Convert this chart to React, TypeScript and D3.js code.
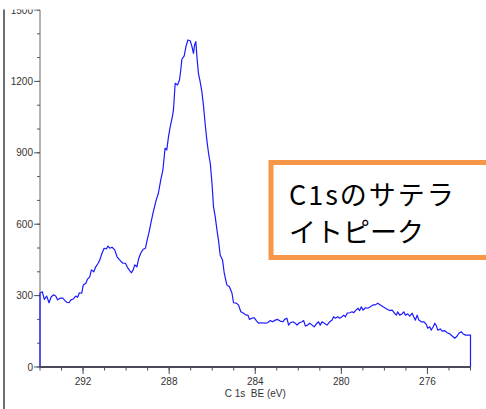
import React from "react";
import * as d3 from "d3";

// C 1s region: binding energy (eV) and counts
const bindingEnergy: number[] = [
  294.00, 293.89, 293.80, 293.69, 293.58, 293.49, 293.38, 293.27, 293.18, 293.07,
  292.94, 292.84, 292.76, 292.65, 292.56, 292.45, 292.34, 292.25, 292.17, 292.06,
  291.99, 291.87, 291.80, 291.69, 291.61, 291.50, 291.41, 291.30, 291.22, 291.12,
  291.02, 290.92, 290.84, 290.76, 290.65, 290.53, 290.42, 290.33, 290.22, 290.14,
  290.03, 289.94, 289.83, 289.75, 289.67, 289.60, 289.50, 289.41, 289.32, 289.21,
  289.10, 289.02, 288.93, 288.84, 288.74, 288.60, 288.50, 288.39, 288.29, 288.19,
  288.11, 288.03, 287.95, 287.85, 287.80, 287.72, 287.61, 287.52, 287.46, 287.41,
  287.30, 287.22, 287.13, 287.02, 286.94, 286.87, 286.82, 286.76, 286.71, 286.64,
  286.56, 286.48, 286.40, 286.33, 286.25, 286.17, 286.09, 286.01, 285.94, 285.86,
  285.78, 285.71, 285.63, 285.52, 285.44, 285.32, 285.20, 285.08, 285.01, 284.88,
  284.78, 284.67, 284.54, 284.43, 284.34, 284.27, 284.15, 284.05, 283.95, 283.85,
  283.69, 283.53, 283.43, 283.30, 283.20, 283.07, 282.96, 282.84, 282.71, 282.64,
  282.53, 282.45, 282.37, 282.25, 282.14, 282.06, 281.95, 281.83, 281.75, 281.67,
  281.57, 281.47, 281.36, 281.26, 281.13, 281.06, 280.98, 280.90, 280.79, 280.67,
  280.54, 280.43, 280.36, 280.28, 280.17, 280.08, 279.97, 279.89, 279.81, 279.73,
  279.61, 279.50, 279.43, 279.32, 279.22, 279.15, 279.07, 278.99, 278.88, 278.78,
  278.65, 278.53, 278.42, 278.31, 278.19, 278.06, 277.95, 277.85, 277.75, 277.64,
  277.53, 277.44, 277.38, 277.29, 277.18, 277.10, 277.02, 276.92, 276.82, 276.71,
  276.64, 276.56, 276.48, 276.40, 276.29, 276.17, 276.05, 275.99, 275.89, 275.83,
  275.73, 275.66, 275.58, 275.52, 275.40, 275.32, 275.21, 275.08, 274.96, 274.85,
  274.73, 274.62, 274.54, 274.43, 274.34, 274.23, 274.12, 274.00,
];

const counts: number[] = [
  311, 316, 284, 298, 270, 293, 303, 298, 282, 289,
  289, 279, 272, 270, 282, 286, 298, 293, 312, 310,
  345, 352, 368, 379, 408, 400, 421, 436, 450, 478,
  499, 496, 508, 499, 503, 492, 463, 453, 442, 436,
  436, 419, 405, 396, 408, 429, 421, 457, 478, 495,
  499, 534, 568, 609, 651, 702, 730, 786, 828, 919,
  912, 968, 1010, 1052, 1080, 1192, 1185, 1206, 1248, 1293,
  1307, 1346, 1374, 1371, 1346, 1318, 1353, 1367, 1304, 1234,
  1199, 1157, 1094, 1024, 954, 898, 856, 772, 674, 632,
  576, 534, 471, 450, 394, 345, 337, 310, 270, 268,
  261, 232, 226, 218, 218, 200, 205, 207, 195, 184,
  186, 184, 186, 195, 190, 197, 200, 193, 190, 200,
  205, 176, 186, 190, 184, 176, 186, 190, 195, 172,
  176, 184, 176, 169, 184, 190, 176, 190, 184, 176,
  190, 197, 211, 205, 211, 205, 211, 218, 211, 226,
  228, 232, 228, 239, 247, 237, 253, 239, 249, 247,
  253, 261, 261, 268, 261, 253, 247, 242, 237, 239,
  226, 218, 232, 218, 223, 232, 218, 223, 214, 226,
  211, 197, 218, 197, 190, 190, 179, 163, 169, 155,
  169, 184, 172, 155, 160, 151, 153, 144, 139, 130,
  121, 130, 142, 148, 139, 134, 134, 134,
];

const xDomain: [number, number] = [294, 274];
const yDomain: [number, number] = [0, 1500];
const xMajorTicks = [292, 288, 284, 280, 276];
const yMajorTicks = [0, 300, 600, 900, 1200, 1500];
const xTitle = "C 1s  BE (eV)";
const noteLines = ["C1sのサテラ", "イトピーク"];

const W = 486;
const H = 409;
const left = 40;
const right = 470.5;
const top = 10;
const bottom = 367;

const numFont = "'Liberation Sans Narrow', 'Arial Narrow', 'Liberation Sans', Arial, sans-serif";

export default function App() {
  const x = d3.scaleLinear().domain(xDomain).range([left, right]);
  const y = d3.scaleLinear().domain(yDomain).range([bottom, top]);

  // spectrum trace, dropping to the baseline at both ends of the scan
  const pts: [number, number][] = bindingEnergy.map((e, i) => [e, counts[i]]);
  const trace: [number, number][] = [
    [bindingEnergy[0], 0],
    ...pts,
    [bindingEnergy[bindingEnergy.length - 1], 0],
  ];
  const line = d3
    .line<[number, number]>()
    .x((d) => x(d[0]))
    .y((d) => y(d[1]));

  const xMinor = d3.range(274, 295, 1);
  const yMinor = d3.range(0, 1501, 100);

  return (
    <svg
      width={W}
      height={H}
      style={{ position: "absolute", left: 0, top: 0, background: "#fff" }}
    >
      <defs>
        <clipPath id="frame">
          <rect x={0} y={9.5} width={W} height={H - 9.5} />
        </clipPath>
      </defs>
      <rect width={W} height={H} fill="#fff" />
      <g clipPath="url(#frame)">
        {/* outer frame edge */}
        <line x1={4} x2={4} y1={8} y2={H} stroke="#222" strokeWidth={1.3} />

        {/* y axis */}
        <line x1={left} x2={left} y1={top} y2={bottom} stroke="#666" strokeWidth={1} />
        {yMinor.map((v) => (
          <line
            key={"ym" + v}
            x1={left - 3}
            x2={left}
            y1={y(v)}
            y2={y(v)}
            stroke="#555"
            strokeWidth={1}
          />
        ))}
        {yMajorTicks.map((v) => (
          <g key={"y" + v}>
            <line x1={left - 6} x2={left} y1={y(v)} y2={y(v)} stroke="#555" strokeWidth={1} />
            <text
              x={left - 7}
              y={y(v)}
              dy="0.35em"
              textAnchor="end"
              fontFamily={numFont}
              fontSize={10}
              fill="#333"
            >
              {v}
            </text>
          </g>
        ))}

        {/* x axis */}
        {xMinor.map((v) => (
          <line
            key={"xm" + v}
            x1={x(v)}
            x2={x(v)}
            y1={bottom}
            y2={bottom + 3.5}
            stroke="#4a4a5e"
            strokeWidth={1}
          />
        ))}
        {xMajorTicks.map((v) => (
          <g key={"x" + v}>
            <line x1={x(v)} x2={x(v)} y1={bottom} y2={bottom + 7} stroke="#4a4a5e" strokeWidth={1} />
            <text
              x={x(v)}
              y={bottom + 18}
              textAnchor="middle"
              fontFamily={numFont}
              fontSize={10}
              fill="#333"
            >
              {v}
            </text>
          </g>
        ))}
        <text
          x={x(284)}
          y={bottom + 30}
          textAnchor="middle"
          fontFamily={numFont}
          fontSize={10}
          fill="#333"
          style={{ whiteSpace: "pre" }}
        >
          {xTitle}
        </text>

        {/* spectrum */}
        <path d={line(trace) ?? ""} fill="none" stroke="#1a1aff" strokeWidth={1.2} strokeLinejoin="round" />

        <line x1={left} x2={right} y1={bottom} y2={bottom} stroke="#4a4a5e" strokeWidth={2} />

        {/* annotation callout */}
        <rect
          x={271}
          y={162.5}
          width={240}
          height={95}
          fill="#fff"
          stroke="#f79646"
          strokeWidth={5}
        />
        {noteLines.map((t, i) => (
          <text
            key={t}
            x={289}
            y={205 + i * 37}
            fontFamily="'Noto Sans CJK JP', 'Noto Sans', sans-serif"
            fontSize={27}
            letterSpacing={i === 0 ? 2 : 0}
            fill="#000"
          >
            {t}
          </text>
        ))}
      </g>
    </svg>
  );
}
